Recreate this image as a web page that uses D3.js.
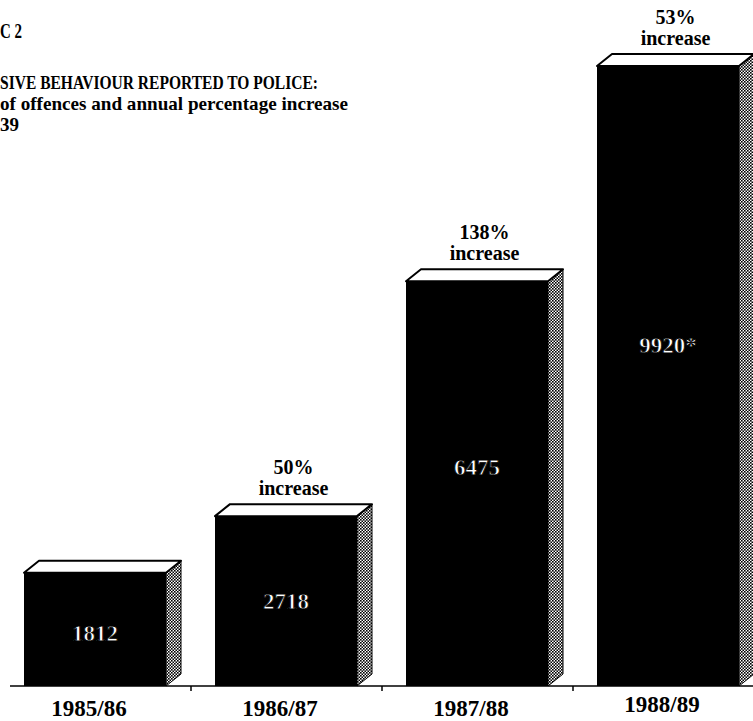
<!DOCTYPE html>
<html lang="en">
  <head>
    <meta charset="UTF-8" />
    <title>figure 2</title>
    <script src="https://d3js.org/d3.v7.min.js"></script>
    <style>
      body { margin: 0; background: #fff; }
    </style>
  </head>
  <body>
    <svg width="753" height="721"></svg>
  </body>

  <script>
    // data
    var years = ['1985/86', '1986/87', '1987/88', '1988/89']
    var offences = [1812, 2718, 6475, 9920]
    var valueLabels = ['1812', '2718', '6475', '9920*']
    var increases = [null, '50%', '138%', '53%']
    var titleLines = ['SIVE BEHAVIOUR REPORTED TO POLICE:', 'of offences and annual percentage increase', '39']
    var titleWidths = [318, 348, 0]

    var svg = d3.select('svg')
    var baseY = 686
    var serif = "'Liberation Serif', 'Times New Roman', serif"

    var x = d3.scaleBand().domain(years).range([0, 764])
    var y = d3.scaleLinear().domain([0, 10000]).range([baseY, 61])

    var barW = 142 // front face
    var dx = 15, dy = 12 // depth of the box

    // halftone for side face
    var pat = svg.append('defs').append('pattern')
      .attr('id', 'dots').attr('width', 3).attr('height', 3)
      .attr('patternUnits', 'userSpaceOnUse')
    pat.append('rect').attr('width', 3).attr('height', 3).attr('fill', '#fff')
    pat.append('rect').attr('width', 1.6).attr('height', 1.6).attr('fill', '#000')
    pat.append('rect').attr('x', 1.5).attr('y', 1.5).attr('width', 1.6).attr('height', 1.6).attr('fill', '#000')

    // titles
    svg.append('text').attr('x', 0).attr('y', 38)
      .attr('font-family', serif)
      .attr('font-size', 20).attr('font-weight', 'bold')
      .attr('textLength', 22).attr('lengthAdjust', 'spacingAndGlyphs')
      .text('C 2')
    svg.selectAll('.title').data(titleLines).enter().append('text')
      .attr('class', 'title')
      .attr('x', 0)
      .attr('y', function (d, i) { return 89 + i * 21 })
      .attr('font-family', serif)
      .attr('font-size', 19).attr('font-weight', 'bold')
      .each(function (d, i) {
        if (titleWidths[i]) d3.select(this).attr('textLength', titleWidths[i]).attr('lengthAdjust', 'spacingAndGlyphs')
      })
      .text(function (d) { return d })

    // axis line + ticks between bands
    svg.append('line').attr('x1', 10).attr('x2', 753).attr('y1', baseY).attr('y2', baseY)
      .attr('stroke', '#000').attr('stroke-width', 1.5)
    svg.selectAll('.tick').data(years.slice(1)).enter().append('line')
      .attr('x1', function (d) { return x(d) }).attr('x2', function (d) { return x(d) })
      .attr('y1', baseY).attr('y2', baseY + 5)
      .attr('stroke', '#000').attr('stroke-width', 1.5)

    var bars = svg.selectAll('.bar').data(years).enter().append('g').attr('class', 'bar')

    // side face
    bars.append('path')
      .attr('d', function (d, i) {
        var x0 = x(d) + 24 + barW, t = y(offences[i])
        return 'M' + x0 + ',' + t + 'L' + (x0 + dx) + ',' + (t - dy) + 'L' + (x0 + dx) + ',' + (baseY - dy) + 'L' + x0 + ',' + baseY + 'Z'
      })
      .attr('fill', 'url(#dots)').attr('stroke', '#000').attr('stroke-width', 1)

    // front face
    bars.append('rect')
      .attr('x', function (d) { return x(d) + 24 })
      .attr('y', function (d, i) { return y(offences[i]) })
      .attr('width', barW)
      .attr('height', function (d, i) { return baseY - y(offences[i]) })
      .attr('fill', '#000')

    // top face
    bars.append('path')
      .attr('d', function (d, i) {
        var x0 = x(d) + 24, t = y(offences[i])
        return 'M' + x0 + ',' + t + 'L' + (x0 + dx) + ',' + (t - dy) + 'L' + (x0 + barW + dx) + ',' + (t - dy) + 'L' + (x0 + barW) + ',' + t + 'Z'
      })
      .attr('fill', '#fff').attr('stroke', '#000').attr('stroke-width', 2).attr('stroke-linejoin', 'round')

    // values inside the bars (bold face thinned by a black outline)
    bars.append('text')
      .attr('x', function (d) { return x(d) + 24 + barW / 2 })
      .attr('y', function (d, i) {
        var t = y(offences[i])
        return t + 20 + 0.43 * (baseY - t)
      })
      .attr('font-family', serif).attr('font-weight', 'bold')
      .attr('text-anchor', 'middle').attr('font-size', 23).attr('fill', '#fff')
      .attr('stroke', '#000').attr('stroke-width', 0.8)
      .text(function (d, i) { return valueLabels[i] })

    // increase labels
    var inc = bars.filter(function (d, i) { return increases[i] })
    inc.append('text')
      .attr('x', function (d) { return x(d) + 24 + (barW + dx) / 2 })
      .attr('y', function (d) { return y(offences[years.indexOf(d)]) - dy - 30 })
      .attr('font-family', serif).attr('font-weight', 'bold')
      .attr('text-anchor', 'middle').attr('font-size', 20)
      .text(function (d) { return increases[years.indexOf(d)] })
    inc.append('text')
      .attr('x', function (d) { return x(d) + 24 + (barW + dx) / 2 })
      .attr('y', function (d) { return y(offences[years.indexOf(d)]) - dy - 9 })
      .attr('font-family', serif).attr('font-weight', 'bold')
      .attr('text-anchor', 'middle').attr('font-size', 20)
      .text('increase')

    // year labels
    svg.selectAll('.year').data(years).enter().append('text')
      .attr('class', 'year')
      .attr('x', function (d) { return x(d) + 24 + barW / 2 - 6 })
      .attr('y', function (d, i) { return i === 3 ? 712 : 716 })
      .attr('font-family', serif)
      .attr('text-anchor', 'middle').attr('font-size', 23).attr('font-weight', 'bold')
      .text(function (d) { return d })
  </script>
</html>
